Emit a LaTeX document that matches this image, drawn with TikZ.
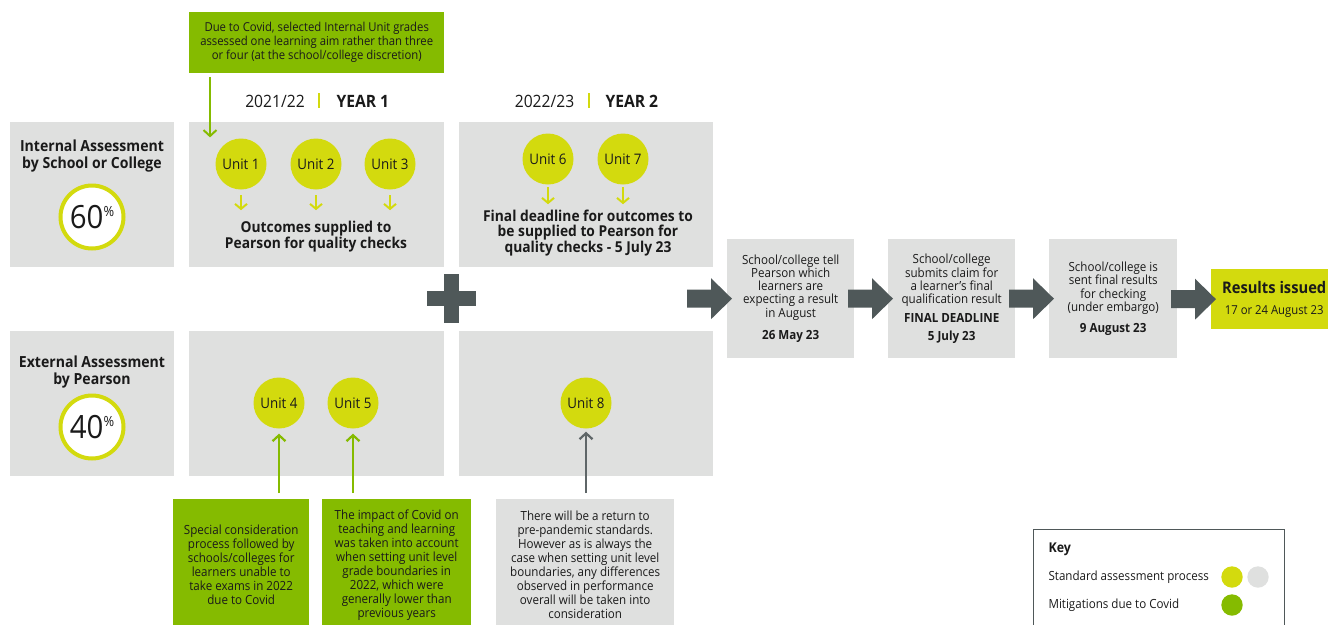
\documentclass[tikz,border=0pt]{standalone}
\usepackage{fontspec}
\setmainfont{Open Sans}[FakeStretch=0.92]
\usetikzlibrary{arrows.meta,positioning,calc}
\definecolor{panel}{HTML}{DFE0DF}
\definecolor{lime}{HTML}{D3DA0E}
\definecolor{covid}{HTML}{85BB00}
\definecolor{slate}{HTML}{4F5859}
\definecolor{pointer}{HTML}{5F6668}
\definecolor{ink}{HTML}{1A1A1A}

\begin{document}
\begin{tikzpicture}[x=1pt,y=-1pt,
  box/.style={fill=panel,inner sep=0pt,anchor=north west,text=ink,align=center},
  body/.style={font=\fontsize{12.6}{13.3}\selectfont},
  head/.style={font=\bfseries\fontsize{15.3}{17}\selectfont,text=ink,align=center},
  unit/.style={circle,fill=lime,minimum size=51pt,inner sep=0pt,text=ink,
    font=\fontsize{14.5}{15}\selectfont},
  pct/.style={circle,draw=lime,line width=4pt,fill=white,minimum size=63pt,
    inner sep=0pt,text=ink,font=\fontsize{32}{32}\selectfont},
  tick/.style={lime,line width=2pt,-{Straight Barb[length=5pt,width=12pt]}},
  up/.style={line width=2.2pt,-{Straight Barb[length=6pt,width=13pt]},shorten <=6pt},
  year/.style={font=\fontsize{17}{20}\selectfont,text=ink},
  keytext/.style={anchor=west,font=\fontsize{12.6}{14}\selectfont,text=ink}]
  \useasboundingbox (0,0) rectangle (1328,624);

  % panels of the two assessment rows
  \node[box,minimum width=164pt,minimum height=145pt] (intp) at (10,122) {};
  \node[box,minimum width=255pt,minimum height=145pt] (y1a) at (189,122) {};
  \node[box,minimum width=254pt,minimum height=145pt] (y2a) at (459,122) {};
  \node[box,minimum width=164pt,minimum height=145pt] (extp) at (10,331) {};
  \node[box,minimum width=255pt,minimum height=145pt] (y1b) at (189,331) {};
  \node[box,minimum width=254pt,minimum height=145pt] (y2b) at (459,331) {};

  % year headings
  \node[year] (yr1) at (275,101) {2021/22};
  \draw[lime,line width=2pt] (319,93) -- (319,108);
  \node[year,anchor=west,font=\bfseries\fontsize{17}{20}\selectfont] (lab1) at (333,101) {YEAR 1};
  \node[year] (yr2) at (544.5,101) {2022/23};
  \draw[lime,line width=2pt] (589,93) -- (589,108);
  \node[year,anchor=west,font=\bfseries\fontsize{17}{20}\selectfont] (lab2) at (602,101) {YEAR 2};

  \node[head] (intt) at (92,156.5) {Internal Assessment\\by School or College};
  \node[head] (extt) at (92,372) {External Assessment\\by Pearson};
  \node[pct] (p60) at (92,217) {60{\fontsize{14}{14}\selectfont\raisebox{12pt}{\%}}};
  \node[pct] (p40) at (92,427) {40{\fontsize{14}{14}\selectfont\raisebox{12pt}{\%}}};

  \foreach \n/\x/\y in {1/241/164,2/316/164,3/390/164,6/548/159,7/623/159,4/279/403,5/353/403,8/586/403}
    \node[unit] (u\n) at (\x,\y) {Unit \n};
  \foreach \n/\g/\l in {1/5.5/15,2/5.5/15,3/5.5/15,6/2.5/17,7/2.5/17}
    \draw[tick] ($(u\n.south)+(0,\g)$) -- ++(0,\l);

  \node[head,font=\bfseries\fontsize{15}{16.6}\selectfont] (out1) at (316,236.5)
    {Outcomes supplied to\\Pearson for quality checks};
  \node[head,font=\bfseries\fontsize{15}{15.8}\selectfont] (out2) at (588,233)
    {Final deadline for outcomes to\\be supplied to Pearson for\\quality checks - 5 July 23};

  % the plus between the rows
  \fill[slate] (444,274) rectangle (459,323);
  \fill[slate] (427,291) rectangle (476,306);

  % process steps
  \node[box,body,minimum width=127pt,minimum height=119pt] (proc1) at (727,239)
    {School/college tell\\Pearson which\\learners are\\expecting a result\\in August\\[9.4pt]\textbf{26 May 23}};
  \node[box,body,minimum width=127pt,minimum height=119pt] (proc2) at (888,239)
    {School/college\\submits claim for\\a learner’s final\\qualification result\\[5.7pt]\textbf{FINAL DEADLINE}\\[4.3pt]\textbf{5 July 23}};
  \node[box,body,minimum width=128pt,minimum height=119pt] (proc3) at (1049,239)
    {School/college is\\sent final results\\for checking\\(under embargo)\\[7.7pt]\textbf{9 August 23}};
  \node[box,fill=lime,minimum width=126pt,minimum height=60pt,font=\fontsize{12.3}{20.7}\selectfont] (res) at (1211,269)
    {{\bfseries\fontsize{16}{18}\selectfont Results issued}\\17 or 24 August 23};
  \foreach \t in {proc1,proc2,proc3,res}
    \fill[slate] ($(\t.west)+(5,0)$) -- ++(-21,-20.5) -- ++(0,11.5) -- ++(-24,0)
      -- ++(0,18) -- ++(24,0) -- ++(0,11.5) -- cycle;

  % covid notes
  \node[box,fill=covid,minimum width=255pt,minimum height=61pt,font=\fontsize{12.3}{14}\selectfont] (mit) at (189,12)
    {Due to Covid, selected Internal Unit grades\\assessed one learning aim rather than three\\or four (at the school/college discretion)};
  \draw[covid,line width=2pt,-{Straight Barb[length=6pt,width=13pt]}] ($(mit.south west)+(21,4)$) -- ++(0,60);

  \node[box,body,fill=covid,font=\fontsize{12.6}{14}\selectfont,minimum width=136pt,minimum height=131pt] (note1) at (173,499)
    {Special consideration\\process followed by\\schools/colleges for\\learners unable to\\take exams in 2022\\due to Covid};
  \node[box,body,fill=covid,font=\fontsize{12.6}{14}\selectfont,minimum width=149pt,minimum height=131pt] (note2) at (322,499)
    {The impact of Covid on\\teaching and learning\\was taken into account\\when setting unit level\\grade boundaries in\\2022, which were\\generally lower than\\previous years};
  \node[box,body,font=\fontsize{12.6}{14}\selectfont,minimum width=178pt,minimum height=131pt] (note3) at (496,499)
    {There will be a return to\\pre-pandemic standards.\\However as is always the\\case when setting unit level\\boundaries, any differences\\observed in performance\\overall will be taken into\\consideration};
  \draw[up,covid,shorten >=5pt] (u4 |- note1.north) -- (u4.south);
  \draw[up,covid,shorten >=5pt] (u5 |- note2.north) -- (u5.south);
  \draw[up,pointer,shorten >=3pt] (u8 |- note3.north) -- (u8.south);

  % key
  \draw[slate,line width=0.8pt] (1033,529) rectangle (1284,640);
  \node[keytext,font=\bfseries\fontsize{13.5}{14}\selectfont] (keyt) at (1045,549) {Key};
  \node[keytext] (std) at (1045,577) {Standard assessment process};
  \node[keytext] (mitk) at (1045,605) {Mitigations due to Covid};
  \fill[lime] (1232,577) circle (10.7);
  \fill[panel] (1258,577) circle (10.7);
  \fill[covid] (1232,605) circle (10.7);
\end{tikzpicture}
\end{document}
